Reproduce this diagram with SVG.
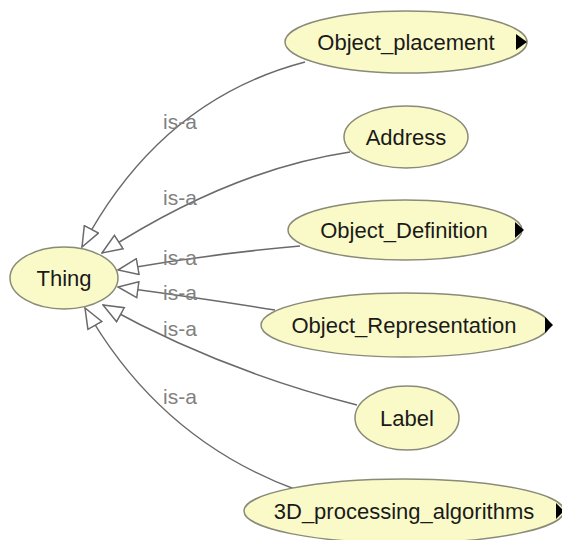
<svg xmlns="http://www.w3.org/2000/svg" width="562" height="540" viewBox="0 0 562 540">
<style>
.node ellipse{fill:#fafac8;stroke:#8a8a78;stroke-width:1.5}
.node text{font-family:"Liberation Sans",Arial,sans-serif;font-size:22px;fill:#1a1a1a;text-anchor:middle}
.node path{fill:#000}
.edge{fill:none;stroke:#6a6a6a;stroke-width:1.5;marker-end:url(#tri)}
.lbl{font-family:"Liberation Sans",Arial,sans-serif;font-size:21px;fill:#808080}
</style>
<defs>
<marker id="tri" viewBox="0 0 22 18" refX="21" refY="9" markerWidth="22" markerHeight="18" markerUnits="userSpaceOnUse" orient="auto">
<path d="M1,1 L21,9 L1,17 Z" fill="#fff" stroke="#6a6a6a" stroke-width="1.5"/>
</marker>
</defs>
<rect width="562" height="540" fill="#fff"/>
<g id="connectors">
<path class="edge" d="M305,62 Q160,100 82,247"/>
<path class="edge" d="M350,152 Q230,170 102,253"/>
<path class="edge" d="M300,246 Q210,254 118,270"/>
<path class="edge" d="M275,310 Q200,298 118,287"/>
<path class="edge" d="M357,405 Q220,370 103,305"/>
<path class="edge" d="M297,490 Q160,440 85,308"/>
<text class="lbl" x="163" y="129">is-a</text>
<text class="lbl" x="163" y="205">is-a</text>
<text class="lbl" x="163" y="265">is-a</text>
<text class="lbl" x="163" y="300">is-a</text>
<text class="lbl" x="163" y="336">is-a</text>
<text class="lbl" x="163" y="404">is-a</text>
</g>
<g id="thing" class="node"><ellipse cx="64" cy="278" rx="54" ry="31"/><text x="64" y="286">Thing</text></g>
<g id="object_placement" class="node"><ellipse cx="406" cy="42" rx="121" ry="31"/><text x="406" y="50">Object_placement</text><path d="M516,34 L527,42 L516,50 Z"/></g>
<g id="address" class="node"><ellipse cx="406" cy="137" rx="62" ry="31"/><text x="406" y="145">Address</text></g>
<g id="object_definition" class="node"><ellipse cx="405" cy="230" rx="117" ry="30"/><text x="404" y="238">Object_Definition</text><path d="M515,222 L524,230 L515,238 Z"/></g>
<g id="object_representation" class="node"><ellipse cx="405" cy="325" rx="144" ry="32"/><text x="404" y="333">Object_Representation</text><path d="M545,317 L553,325 L545,333 Z"/></g>
<g id="label" class="node"><ellipse cx="407" cy="418" rx="52" ry="32"/><text x="407" y="426">Label</text></g>
<g id="processing" class="node"><ellipse cx="404" cy="511" rx="160" ry="32"/><text x="404" y="519">3D_processing_algorithms</text><path d="M556,503 L564,511 L556,519 Z"/></g>
</svg>
